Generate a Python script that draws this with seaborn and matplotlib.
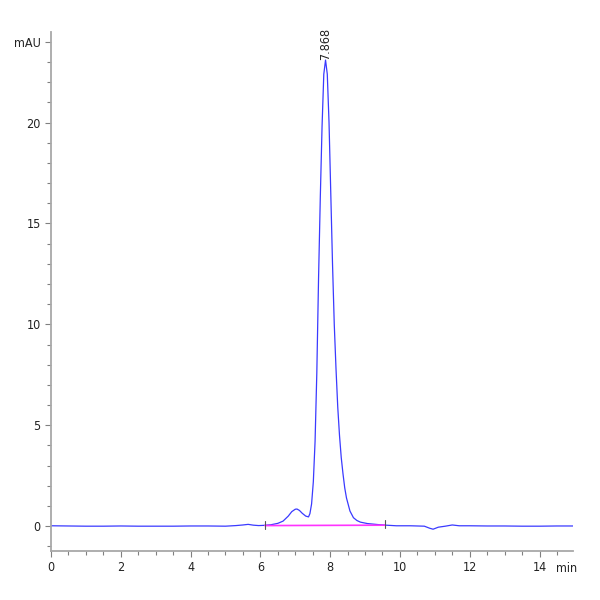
import matplotlib
matplotlib.use("Agg")
import matplotlib.pyplot as plt
import seaborn as sns
from matplotlib.ticker import MultipleLocator, FixedLocator

# chromatogram trace (time in min, signal in mAU)
time_min = [0.0, 0.5, 1.0, 1.5, 2.0, 2.5, 3.0, 3.5, 4.0, 4.5, 5.0, 5.3, 5.5,
            5.65, 5.8, 5.95, 6.1, 6.3, 6.5, 6.65, 6.8, 6.9, 7.0, 7.05, 7.12,
            7.2, 7.3, 7.38, 7.42, 7.468, 7.518, 7.568, 7.618, 7.668, 7.718,
            7.768, 7.818, 7.868, 7.918, 7.968, 8.018, 8.068, 8.118, 8.168,
            8.218, 8.268, 8.318, 8.368, 8.418, 8.468, 8.568, 8.668, 8.768,
            8.868, 9.068, 9.368, 9.6, 9.9, 10.3, 10.7, 10.85, 10.95, 11.1,
            11.3, 11.5, 11.7, 12.0, 12.5, 13.0, 13.5, 14.0, 14.5, 14.96]
signal_mau = [0.02, 0.01, 0.0, 0.0, 0.01, 0.0, 0.0, 0.0, 0.01, 0.01, 0.0, 0.03,
              0.06, 0.09, 0.05, 0.03, 0.04, 0.07, 0.14, 0.25, 0.5, 0.72, 0.84,
              0.85, 0.78, 0.64, 0.5, 0.46, 0.62, 1.1, 2.2, 4.2, 7.6, 12.3, 16.3,
              19.8, 22.4, 23.1, 22.4, 20.0, 16.5, 13.0, 10.0, 7.8, 5.9, 4.5,
              3.4, 2.6, 1.9, 1.4, 0.75, 0.42, 0.28, 0.2, 0.13, 0.08, 0.05,
              0.02, 0.02, 0.0, -0.1, -0.15, -0.05, 0.0, 0.06, 0.02, 0.02, 0.01,
              0.01, 0.0, 0.0, 0.01, 0.01]

# integration baseline and markers
base_time = [6.13, 9.58]
base_mau = [0.03, 0.05]
peak_rt = 7.868
peak_height = 23.1

x_ticks = [0, 2, 4, 6, 8, 10, 12, 14]
y_ticks = [0, 5, 10, 15, 20, 24]
y_labels = ["0", "5", "10", "15", "20", "mAU"]

sns.set_style("ticks")
plt.rcParams["font.family"] = ["DejaVu Sans"]
plt.rcParams["font.stretch"] = "condensed"

fig = plt.figure(figsize=(6, 6), dpi=100)
ax = fig.add_axes([0.085, 0.082, 0.87, 0.865])

sns.lineplot(x=time_min, y=signal_mau, ax=ax, color="#3a3aff", lw=0.9,
             sort=False, estimator=None)
sns.lineplot(x=base_time, y=base_mau, ax=ax, color="#ff33ff", lw=1.2,
             sort=False, estimator=None)
for t, v in zip(base_time, base_mau):
    ax.plot([t, t], [v - 0.15, v + 0.25], color="#555555", lw=0.8)

ax.text(peak_rt, peak_height, f"{peak_rt:.3f}", rotation=90,
        ha="center", va="bottom", fontsize=9, color="#222222")

ax.set_xlim(0, 14.96)
ax.set_ylim(-1.22, 24.5)
ax.xaxis.set_major_locator(FixedLocator(x_ticks))
ax.xaxis.set_minor_locator(MultipleLocator(0.5))
ax.yaxis.set_major_locator(FixedLocator(y_ticks))
ax.yaxis.set_minor_locator(MultipleLocator(1))
ax.set_yticklabels(y_labels)
ax.tick_params(which="both", direction="out", color="#808080", width=0.8,
               labelsize=9, labelcolor="#222222")
ax.tick_params(which="major", length=4)
ax.tick_params(which="minor", length=3)
ax.text(14.78, -0.022, "min", transform=ax.get_xaxis_transform(),
        ha="center", va="top", fontsize=9, color="#222222")

sns.despine(ax=ax)
for s in ["left", "bottom"]:
    ax.spines[s].set_color("#a8a8a8")
    ax.spines[s].set_linewidth(1.3)
ax.set_xlabel("")
ax.set_ylabel("")

fig.savefig("out.png", dpi=100)
